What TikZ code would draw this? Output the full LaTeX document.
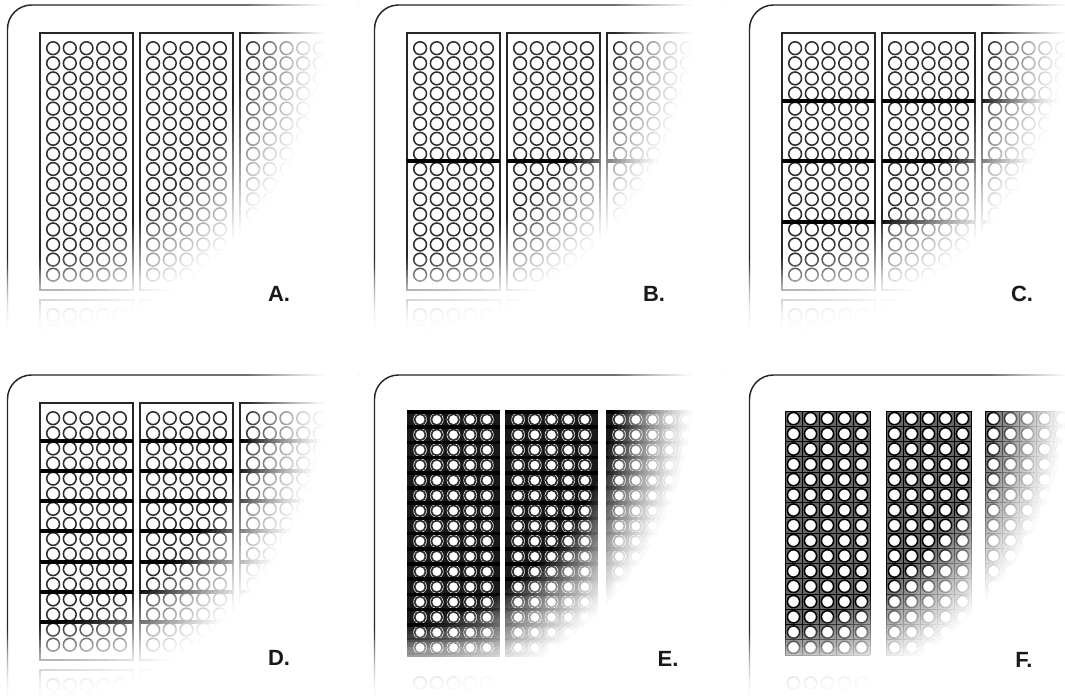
\documentclass[tikz,border=0pt]{standalone}
\usepackage{fontspec}
\setmainfont{Liberation Sans}
\tikzset{
  frameline/.style={draw=black!85, line width=1.1pt, rounded corners=18pt},
  modborder/.style={draw=black!85, line width=1.5pt},
  cellring/.style={draw=black!82, line width=1.15pt},
  sepline/.style={draw=black, line width=3pt},
  ebar/.style={draw=black, line width=2.6pt},
  gridl/.style={draw=black, line width=0.6pt},
  lbl/.style={font=\fontsize{16.5}{18}\selectfont\bfseries, text=black!90, inner sep=0pt},
}
\newcommand{\framepath}{\draw[frameline] (7.5,360) -- (7.5,5) -- (365,5);}
\newcommand{\stdmodules}{%
  \foreach \ml in {40,140,240}{%
    \draw[modborder] (\ml,33) rectangle (\ml+93,290);
    \foreach \i in {0,...,4}{\foreach \j in {0,...,15}{%
      \draw[cellring] (\ml+13.1+16.7*\i, 48.2+15.1*\j) circle[radius=6.4];}}
    \draw[modborder] (\ml,300) rectangle (\ml+93,557);
    \foreach \i in {0,...,4}{\foreach \j in {0,1,2}{%
      \draw[cellring] (\ml+13.1+16.7*\i, 315.2+15.1*\j) circle[radius=6.4];}}
  }}
\newcommand{\seps}[1]{%
  \foreach \k in {#1}{\foreach \ml in {40,140,240}{%
    \draw[sepline] (\ml,40.65+15.1*\k) -- ++(93,0);}}}
\newcommand{\emodules}{%
  \foreach \ml in {40,138,239}{%
    \fill[black!90] (\ml,42) rectangle (\ml+93,285.2);
    \foreach \i in {0,...,4}{\foreach \j in {0,...,15}{%
      \fill[white] (\ml+13.1+16.7*\i, 49.6+15.2*\j) circle[radius=6.8];
      \draw[cellring, line width=1.3pt] (\ml+13.1+16.7*\i, 49.6+15.2*\j) circle[radius=5.5];}}
    \foreach \j in {0,...,16}{\draw[ebar] (\ml,42+15.2*\j) -- ++(93,0);}
  }
  \foreach \ml in {40,138}{\foreach \i in {0,...,4}{%
    \draw[cellring] (\ml+13.1+16.7*\i, 313) circle[radius=6.2];}}}
\newcommand{\fmodules}{%
  \foreach \ml in {43,144,243}{%
    \fill[black!60] (\ml,41) rectangle (\ml+85,285);
    \foreach \i in {0,...,5}{\draw[gridl] (\ml+17*\i,41) -- (\ml+17*\i,285);}
    \foreach \j in {0,...,16}{\draw[gridl] (\ml,41+15.25*\j) -- (\ml+85,41+15.25*\j);}
    \foreach \i in {0,...,4}{\foreach \j in {0,...,15}{%
      \filldraw[fill=white, cellring, draw=black] (\ml+8.5+17*\i, 48.6+15.25*\j) circle[radius=6.1];}}
  }
  \foreach \ml in {43,144}{\foreach \i in {0,...,4}{%
    \draw[cellring] (\ml+8.5+17*\i, 313) circle[radius=6.1];}}}
\newcommand{\fadeover}{%
  \foreach \k in {0,...,19}{%
    \pgfmathsetmacro{\aa}{1-((19.0001-\k)/(20-\k))^1.3}%
    \pgfmathsetmacro{\rr}{245+4*\k}%
    \fill[white, opacity=\aa, even odd rule] (-10,-10) rectangle (370,355) (5,15) circle[radius=\rr];}
  \foreach \k in {0,...,9}{%
    \pgfmathsetmacro{\aa}{1/(10-\k)}%
    \fill[white, opacity=\aa] (-10,270+7*\k) rectangle (370,355);}}
\begin{document}
\begin{tikzpicture}[x=0.75pt, y=-0.75pt]
\useasboundingbox[fill=white] (0,0) rectangle (1065,696);
% Panel A
\begin{scope}[shift={(0,0)}]
  \begin{scope}
    \clip (-5,-3) rectangle (358,345);
    \framepath
    \stdmodules
    \fadeover
  \end{scope}
  \node[lbl] (labA) at (279,294) {A.};
\end{scope}
% Panel B
\begin{scope}[shift={(367,0)}]
  \begin{scope}
    \clip (-5,-3) rectangle (358,345);
    \framepath
    \stdmodules
    \seps{8}
    \fadeover
  \end{scope}
  \node[lbl] (labB) at (287,294) {B.};
\end{scope}
% Panel C
\begin{scope}[shift={(742,0)}]
  \begin{scope}
    \clip (-5,-3) rectangle (358,345);
    \framepath
    \stdmodules
    \seps{4,8,12}
    \fadeover
  \end{scope}
  \node[lbl] (labC) at (280,294) {C.};
\end{scope}
% Panel D
\begin{scope}[shift={(0,370)}]
  \begin{scope}
    \clip (-5,-3) rectangle (358,345);
    \framepath
    \stdmodules
    \seps{2,4,6,8,10,12,14}
    \fadeover
  \end{scope}
  \node[lbl] (labD) at (279,288) {D.};
\end{scope}
% Panel E
\begin{scope}[shift={(367,370)}]
  \begin{scope}
    \clip (-5,-3) rectangle (358,345);
    \framepath
    \emodules
    \fadeover
  \end{scope}
  \node[lbl] (labE) at (301,289) {E.};
\end{scope}
% Panel F
\begin{scope}[shift={(742,370)}]
  \begin{scope}
    \clip (-5,-3) rectangle (358,345);
    \framepath
    \fmodules
    \fadeover
  \end{scope}
  \node[lbl] (labF) at (282,290) {F.};
\end{scope}
\end{tikzpicture}
\end{document}
